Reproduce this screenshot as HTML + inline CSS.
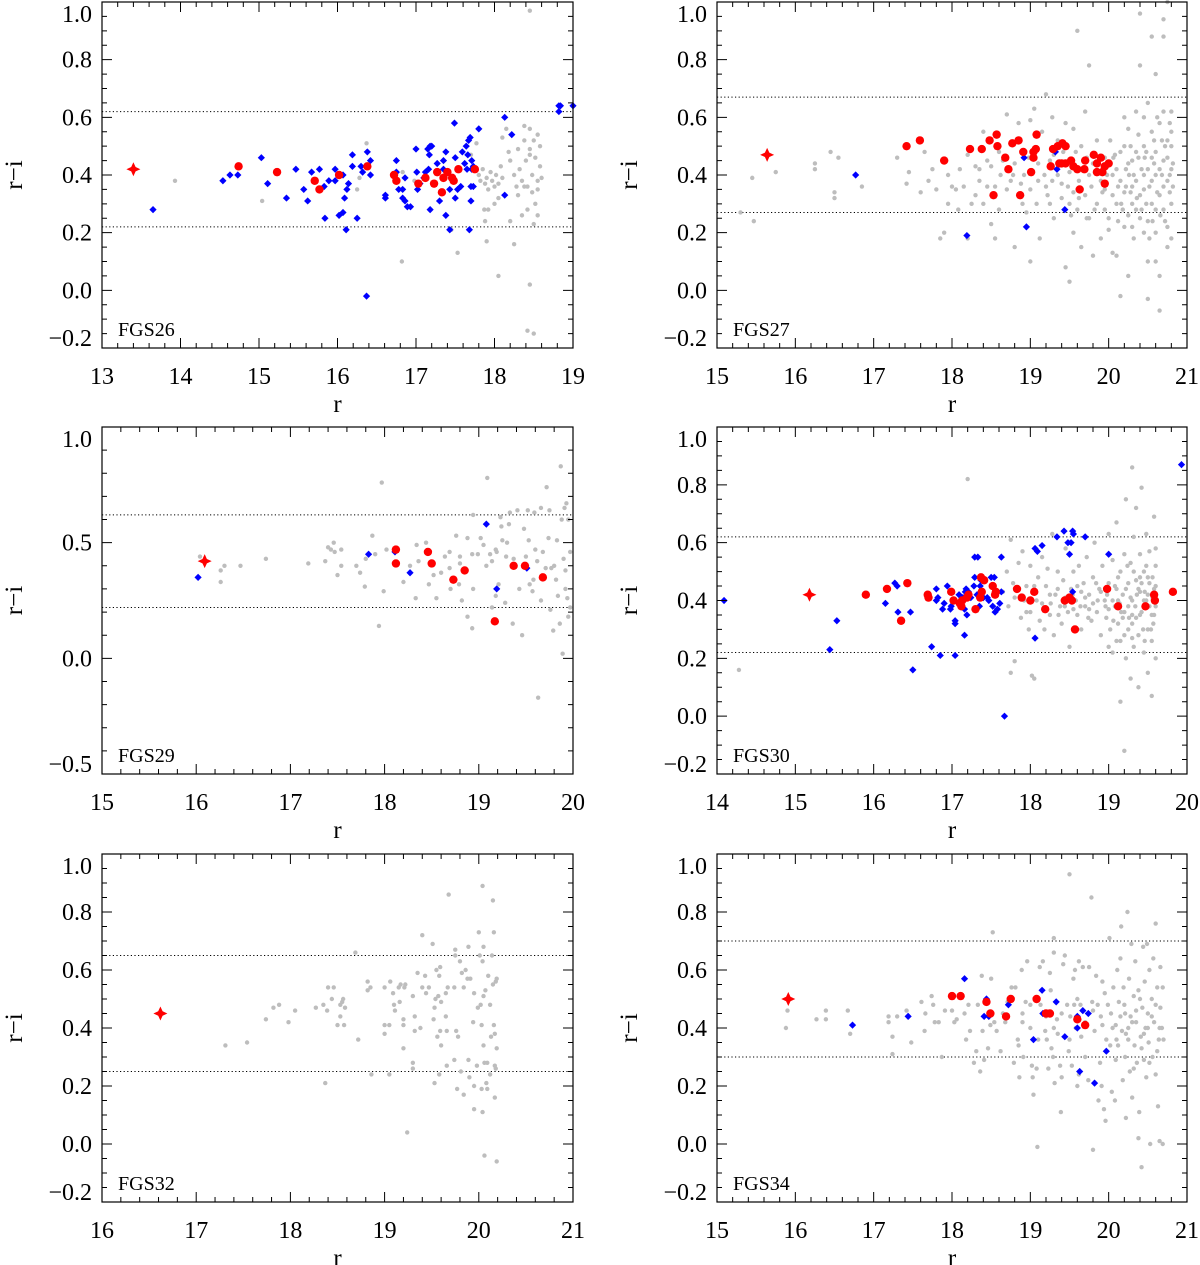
<!DOCTYPE html>
<html><head><meta charset="utf-8"><style>
html,body{margin:0;padding:0;background:#fff;}
svg{display:block;font-family:"Liberation Serif",serif;}
</style></head><body>
<svg id="fig" width="1200" height="1265" viewBox="0 0 1200 1265" xmlns="http://www.w3.org/2000/svg"></svg>
<script>
// ===== FGS26 =====
const fgs26Gray=[[13.93,0.38],[15.04,0.31],[16.37,0.51],[16.25,0.35],[16.28,0.39],[16.82,0.10],[16.98,0.38],[16.83,0.41],[17.53,0.13],[17.45,0.21],[17.70,0.47],[17.77,0.51],[17.8,0.40],[17.82,0.38],[17.85,0.42],[17.88,0.37],[17.9,0.39],[17.92,0.35],[17.95,0.41],[17.97,0.38],[18.0,0.36],[18.02,0.40],[18.05,0.37],[18.08,0.43],[18.1,0.39],[17.87,0.28],[17.92,0.28],[17.88,0.24],[17.9,0.17],[18.05,0.32],[18.0,0.30],[18.05,0.05],[18.1,0.53],[18.2,0.24],[18.25,0.16],[18.15,0.56],[18.2,0.45],[18.25,0.40],[18.28,0.36],[18.3,0.49],[18.32,0.42],[18.35,0.38],[18.38,0.36],[18.38,0.52],[18.4,0.45],[18.42,0.36],[18.42,0.28],[18.45,0.49],[18.45,0.56],[18.48,0.40],[18.48,0.34],[18.5,0.52],[18.5,0.23],[18.52,0.46],[18.52,0.30],[18.55,0.54],[18.55,0.38],[18.55,0.26],[18.58,0.50],[18.58,0.43],[18.6,0.39],[18.45,0.97],[18.45,0.02],[18.42,-0.14],[18.5,-0.15],[18.38,0.57],[18.3,0.33],[18.18,0.48],[18.35,0.26],[18.55,0.35],[18.45,0.47]];
const fgs26Blue=[[13.65,0.28],[14.54,0.38],[14.63,0.40],[14.73,0.40],[15.03,0.46],[15.11,0.37],[15.35,0.32],[15.47,0.42],[15.57,0.35],[15.62,0.31],[15.67,0.41],[15.77,0.42],[15.83,0.36],[15.84,0.25],[15.89,0.38],[15.97,0.42],[15.97,0.38],[16.02,0.26],[16.07,0.27],[16.07,0.40],[16.09,0.32],[16.11,0.21],[16.12,0.35],[16.14,0.37],[16.19,0.47],[16.19,0.43],[16.25,0.25],[16.30,0.43],[16.32,0.41],[16.38,0.48],[16.37,-0.02],[16.42,0.45],[16.42,0.40],[16.61,0.33],[16.61,0.32],[16.75,0.45],[16.75,0.41],[16.78,0.35],[16.83,0.35],[16.83,0.32],[16.86,0.39],[16.86,0.31],[16.89,0.29],[16.93,0.29],[17.0,0.49],[17.01,0.41],[17.02,0.35],[17.05,0.37],[17.10,0.39],[17.12,0.41],[17.15,0.49],[17.18,0.50],[17.20,0.50],[17.17,0.47],[17.16,0.42],[17.18,0.28],[17.27,0.44],[17.30,0.31],[17.35,0.45],[17.38,0.48],[17.35,0.42],[17.38,0.26],[17.43,0.21],[17.43,0.35],[17.45,0.39],[17.49,0.58],[17.50,0.46],[17.50,0.32],[17.53,0.35],[17.57,0.36],[17.59,0.48],[17.62,0.44],[17.64,0.50],[17.65,0.42],[17.66,0.47],[17.67,0.52],[17.69,0.53],[17.68,0.21],[17.70,0.31],[17.70,0.36],[17.73,0.36],[17.71,0.45],[17.71,0.42],[17.73,0.43],[17.80,0.56],[18.13,0.60],[18.13,0.33],[18.22,0.54],[18.82,0.64],[18.82,0.62],[18.84,0.64],[19.0,0.64]];
const fgs26Red=[[14.74,0.43],[15.23,0.41],[15.71,0.38],[15.77,0.35],[16.02,0.40],[16.38,0.43],[16.72,0.40],[16.75,0.38],[17.03,0.37],[17.12,0.39],[17.23,0.37],[17.27,0.41],[17.33,0.34],[17.35,0.39],[17.40,0.41],[17.46,0.39],[17.48,0.38],[17.54,0.42],[17.75,0.42]];
const fgs26Star=[[13.40,0.42]];
const fgs26Cuts=[0.62,0.22];
// ===== FGS27 =====
const fgs27Gray=[[15.45,0.39],[15.47,0.24],[15.3,0.27],[15.75,0.41],[16.25,0.42],[16.25,0.44],[16.5,0.34],[16.5,0.32],[16.45,0.48],[16.55,0.46],[16.85,0.36],[17.3,0.46],[17.42,0.37],[17.45,0.41],[17.6,0.34],[17.65,0.48],[17.7,0.38],[17.75,0.42],[17.8,0.35],[17.85,0.18],[17.9,0.20],[17.95,0.30],[17.95,0.40],[18.05,0.35],[18.08,0.28],[18.15,0.36],[18.2,0.18],[18.25,0.30],[18.3,0.43],[18.35,0.38],[18.4,0.55],[18.45,0.45],[18.5,0.23],[18.55,0.36],[18.55,0.18],[18.6,0.28],[18.65,0.45],[18.7,0.61],[18.75,0.38],[18.8,0.15],[18.85,0.58],[18.88,0.37],[18.92,0.40],[18.95,0.27],[19.0,0.10],[19.0,0.59],[19.05,0.63],[19.1,0.38],[19.12,0.18],[19.15,0.55],[19.2,0.68],[19.22,0.33],[19.25,0.45],[19.28,0.60],[19.3,0.25],[19.35,0.40],[19.4,0.37],[19.45,0.08],[19.5,0.03],[19.5,0.30],[19.55,0.20],[19.55,0.56],[19.6,0.90],[19.62,0.38],[19.65,0.15],[19.7,0.62],[19.72,0.25],[19.75,0.78],[19.8,0.12],[19.85,0.30],[19.9,0.18],[19.95,0.35],[20.0,0.25],[20.05,0.40],[20.1,0.30],[20.1,0.12],[20.15,0.38],[20.15,-0.02],[20.2,0.50],[20.2,0.22],[20.25,0.05],[20.25,0.56],[20.3,0.45],[20.3,0.30],[20.35,0.38],[20.35,0.62],[20.4,0.25],[20.4,0.78],[20.4,0.96],[20.45,0.50],[20.45,0.20],[20.45,0.35],[20.5,0.42],[20.5,0.65],[20.5,0.10],[20.5,-0.03],[20.55,0.30],[20.55,0.55],[20.55,0.88],[20.6,0.40],[20.6,0.20],[20.6,0.75],[20.6,0.48],[20.65,0.33],[20.65,0.58],[20.65,0.05],[20.65,-0.07],[20.7,0.45],[20.7,0.28],[20.7,0.88],[20.7,0.62],[20.75,0.38],[20.75,0.52],[20.75,0.15],[20.75,1.0],[20.8,0.42],[20.8,0.30],[20.8,0.62],[20.8,0.18],[20.25,0.44],[20.3,0.22],[20.35,0.48],[20.4,0.33],[20.45,0.60],[20.55,0.46],[20.6,0.28],[20.7,0.36],[20.75,0.22],[20.8,0.50],[20.7,0.94],[20.6,0.10],[20.5,0.24],[20.3,0.36],[20.2,0.34],[20.1,0.42],[19.95,0.46],[19.9,0.38],[19.8,0.44],[19.7,0.33],[19.6,0.28],[19.5,0.41],[19.4,0.32],[19.3,0.47],[19.2,0.36],[19.1,0.44],[19.0,0.35],[18.9,0.30],[18.8,0.44],[18.7,0.35],[18.6,0.48],[18.5,0.43],[18.4,0.30],[18.3,0.33],[18.2,0.47],[18.1,0.42],[18.0,0.36],[19.25,0.30],[19.35,0.52],[19.45,0.58],[19.55,0.34],[19.65,0.50],[19.75,0.40],[19.85,0.52],[19.95,0.28],[20.05,0.33],[20.15,0.48],[20.25,0.26],[20.35,0.28],[20.45,0.40],[20.55,0.38],[20.65,0.42],[20.75,0.46],[20.8,0.55],[20.2,0.60],[20.0,0.21],[20.05,0.13],[19.75,0.25],
[20.02,0.52],[20.08,0.47],[20.12,0.36],[20.18,0.28],[20.22,0.42],[20.28,0.50],[20.32,0.40],[20.38,0.46],[20.42,0.42],[20.48,0.30],[20.52,0.36],[20.58,0.52],[20.62,0.34],[20.68,0.40],[20.72,0.50],[20.78,0.34],[20.82,0.44],[20.28,0.34],[20.38,0.54],[20.48,0.48],[20.58,0.44],[20.68,0.52],[20.78,0.40],[20.42,0.28],[20.52,0.18],[20.62,0.60],[20.72,0.24],[20.32,0.18],[20.22,0.36],[20.12,0.24],[19.98,0.40],[19.88,0.46],[19.78,0.36],[19.68,0.42],[19.58,0.48],[19.48,0.36],[19.38,0.44],[19.28,0.38],[19.18,0.40],[19.08,0.30],[18.98,0.46],[18.78,0.40],[18.62,0.40],[18.45,0.36],[18.35,0.42],[20.82,0.36],[20.78,0.58],[20.66,0.26],[20.56,0.24],[20.46,0.46],[20.36,0.32],[20.26,0.40],[20.16,0.30],[20.06,0.46],[19.92,0.34],[19.82,0.28],[19.72,0.46],[19.62,0.32],[19.52,0.26],[19.42,0.48]];
const fgs27Blue=[[16.77,0.40],[18.19,0.19],[18.92,0.46],[18.95,0.22],[19.32,0.48],[19.34,0.42],[19.44,0.28]];
const fgs27Red=[[17.42,0.50],[17.59,0.52],[17.90,0.45],[18.23,0.49],[18.38,0.49],[18.48,0.52],[18.57,0.54],[18.58,0.50],[18.53,0.33],[18.68,0.46],[18.72,0.42],[18.77,0.51],[18.85,0.52],[18.87,0.33],[18.91,0.48],[19.01,0.41],[19.04,0.46],[19.04,0.48],[19.07,0.49],[19.08,0.54],[19.26,0.43],[19.29,0.49],[19.35,0.50],[19.37,0.44],[19.41,0.51],[19.45,0.50],[19.40,0.44],[19.45,0.44],[19.52,0.45],[19.55,0.43],[19.60,0.42],[19.63,0.35],[19.69,0.42],[19.70,0.45],[19.81,0.47],[19.85,0.44],[19.85,0.41],[19.90,0.46],[19.92,0.41],[19.95,0.43],[19.95,0.37],[20.0,0.44]];
const fgs27Star=[[15.64,0.47]];
const fgs27Cuts=[0.67,0.27];
// ===== FGS29 =====
const fgs29Gray=[[16.04,0.44],[16.26,0.38],[16.26,0.33],[16.30,0.40],[16.47,0.40],[16.74,0.43],[17.19,0.41],[17.37,0.42],[17.40,0.48],[17.43,0.47],[17.46,0.50],[17.47,0.46],[17.50,0.36],[17.54,0.40],[17.54,0.47],[17.70,0.40],[17.74,0.37],[17.79,0.31],[17.80,0.43],[17.87,0.53],[17.90,0.45],[17.94,0.14],[17.97,0.76],[17.99,0.29],[18.02,0.47],[18.20,0.33],[18.27,0.40],[18.33,0.26],[18.34,0.49],[18.36,0.42],[18.44,0.50],[18.47,0.32],[18.52,0.36],[18.55,0.26],[18.60,0.37],[18.64,0.44],[18.69,0.46],[18.69,0.39],[18.70,0.30],[18.76,0.53],[18.79,0.32],[18.80,0.44],[18.80,0.41],[18.82,0.25],[18.88,0.18],[18.88,0.52],[18.93,0.45],[18.93,0.13],[18.94,0.30],[18.94,0.62],[18.99,0.45],[19.02,0.52],[19.05,0.49],[19.08,0.40],[19.09,0.78],[19.12,0.45],[19.14,0.42],[19.14,0.22],[19.18,0.27],[19.18,0.47],[19.19,0.46],[19.21,0.32],[19.23,0.61],[19.24,0.57],[19.25,0.51],[19.28,0.24],[19.29,0.44],[19.30,0.50],[19.32,0.58],[19.33,0.63],[19.36,0.15],[19.37,0.43],[19.41,0.64],[19.43,0.30],[19.46,0.10],[19.48,0.56],[19.50,0.44],[19.52,0.64],[19.53,0.51],[19.54,0.32],[19.57,0.29],[19.58,0.34],[19.59,0.63],[19.60,0.47],[19.62,0.42],[19.63,-0.17],[19.66,0.25],[19.66,0.65],[19.68,0.46],[19.71,0.39],[19.72,0.74],[19.74,0.52],[19.75,0.64],[19.76,0.21],[19.77,0.39],[19.79,0.12],[19.80,0.40],[19.82,0.34],[19.83,0.51],[19.84,0.27],[19.86,0.15],[19.87,0.83],[19.88,0.60],[19.89,0.02],[19.90,0.43],[19.91,0.65],[19.92,0.38],[19.92,0.30],[19.93,0.67],[19.94,0.26],[19.95,0.60],[19.95,0.18],[19.97,0.46],[19.97,0.22]];
const fgs29Blue=[[16.02,0.35],[17.83,0.45],[18.11,0.46],[18.27,0.37],[19.08,0.58],[19.19,0.30],[19.51,0.39]];
const fgs29Red=[[18.12,0.47],[18.12,0.41],[18.46,0.46],[18.50,0.41],[18.73,0.34],[18.85,0.38],[19.17,0.16],[19.37,0.40],[19.49,0.40],[19.68,0.35]];
const fgs29Star=[[16.09,0.42]];
const fgs29Cuts=[0.62,0.22];
// ===== FGS30 =====
const fgs30Gray=[[14.28,0.16],[17.20,0.82],[17.75,0.15],[17.80,0.19],[17.65,0.43],[17.7,0.50],[17.72,0.38],[17.75,0.61],[17.78,0.46],[17.8,0.41],[17.85,0.53],[17.88,0.34],[17.9,0.57],[17.92,0.40],[17.95,0.45],[17.98,0.30],[18.0,0.52],[18.0,0.36],[18.02,0.14],[18.05,0.13],[18.08,0.40],[18.1,0.48],[18.12,0.33],[18.15,0.55],[18.18,0.30],[18.2,0.45],[18.22,0.51],[18.25,0.35],[18.28,0.63],[18.3,0.28],[18.32,0.42],[18.35,0.50],[18.38,0.38],[18.4,0.32],[18.42,0.47],[18.45,0.58],[18.48,0.36],[18.5,0.24],[18.52,0.44],[18.55,0.50],[18.58,0.40],[18.6,0.35],[18.62,0.52],[18.65,0.30],[18.68,0.46],[18.7,0.38],[18.72,0.55],[18.75,0.42],[18.78,0.33],[18.8,0.48],[18.82,0.60],[18.85,0.36],[18.88,0.44],[18.9,0.28],[18.92,0.52],[18.95,0.40],[18.97,0.34],[19.0,0.63],[19.0,0.46],[19.02,0.30],[19.05,0.54],[19.05,0.22],[19.08,0.38],[19.1,0.44],[19.1,0.67],[19.12,0.32],[19.15,0.50],[19.15,0.26],[19.15,0.05],[19.18,0.42],[19.2,0.56],[19.2,0.36],[19.22,0.20],[19.22,0.75],[19.25,0.46],[19.25,0.30],[19.28,0.53],[19.28,0.13],[19.3,0.40],[19.3,0.86],[19.32,0.24],[19.32,0.62],[19.35,0.34],[19.35,0.47],[19.35,0.72],[19.38,0.28],[19.38,0.10],[19.4,0.43],[19.4,0.56],[19.42,0.36],[19.42,0.79],[19.45,0.22],[19.45,0.50],[19.48,0.40],[19.48,0.63],[19.5,0.30],[19.5,0.15],[19.52,0.46],[19.52,0.57],[19.55,0.35],[19.55,0.26],[19.55,0.07],[19.58,0.44],[19.58,0.69],[19.6,0.38],[19.6,0.52],[19.6,0.20],[19.6,0.58],[19.45,0.40],[19.38,0.44],[19.25,0.38],[19.12,0.48],[18.98,0.42],[18.86,0.40],[18.75,0.37],[18.65,0.43],[18.55,0.37],[18.45,0.41],[18.35,0.44],[18.25,0.42],[18.15,0.39],[18.05,0.45],[17.95,0.36],[19.05,0.40],[19.18,0.34],[19.3,0.32],[19.42,0.46],[19.5,0.42],[19.57,0.32],[19.2,-0.12],[19.3,0.35],[19.1,0.26],[19.0,0.24],
[18.6,0.45],[18.7,0.41],[18.8,0.39],[18.9,0.43],[19.0,0.37],[19.08,0.45],[19.14,0.39],[19.22,0.44],[19.28,0.41],[19.34,0.38],[19.4,0.35],[19.46,0.43],[19.52,0.38],[19.56,0.41],[19.6,0.45],[19.58,0.35],[19.5,0.48],[19.44,0.30],[19.36,0.42],[19.26,0.34],[19.16,0.36],[19.06,0.33],[18.96,0.38],[18.84,0.46],[18.74,0.34],[18.64,0.38],[18.54,0.42],[18.44,0.38],[18.36,0.35],[18.26,0.39],[19.4,0.48],[19.48,0.52],[19.56,0.48],[19.32,0.50],[19.24,0.52],[19.2,0.28],[19.3,0.27],[19.46,0.26],[19.54,0.30],[19.12,0.40]];
const fgs30Blue=[[14.09,0.40],[15.53,0.33],[15.44,0.23],[16.15,0.39],[16.27,0.46],[16.30,0.45],[16.31,0.36],[16.47,0.36],[16.50,0.16],[16.74,0.24],[16.80,0.44],[16.80,0.40],[16.82,0.41],[16.85,0.21],[16.88,0.37],[16.90,0.39],[16.94,0.45],[16.98,0.37],[16.99,0.38],[17.04,0.33],[17.04,0.32],[17.04,0.21],[17.09,0.42],[17.14,0.41],[17.16,0.28],[17.16,0.37],[17.17,0.43],[17.18,0.44],[17.19,0.35],[17.21,0.43],[17.24,0.41],[17.28,0.45],[17.29,0.48],[17.29,0.55],[17.33,0.55],[17.32,0.42],[17.35,0.38],[17.36,0.45],[17.37,0.47],[17.40,0.41],[17.45,0.41],[17.47,0.40],[17.50,0.48],[17.54,0.48],[17.52,0.38],[17.55,0.36],[17.58,0.37],[17.61,0.39],[17.63,0.55],[17.63,0.43],[17.67,0.0],[18.06,0.58],[18.09,0.57],[18.15,0.59],[18.06,0.27],[18.34,0.62],[18.43,0.64],[18.48,0.60],[18.52,0.60],[18.50,0.56],[18.54,0.64],[18.55,0.63],[18.54,0.43],[18.70,0.62],[19.0,0.56],[19.93,0.87]];
const fgs30Red=[[15.90,0.42],[16.17,0.44],[16.35,0.33],[16.43,0.46],[16.69,0.42],[16.70,0.41],[16.99,0.43],[17.02,0.40],[17.10,0.39],[17.12,0.38],[17.13,0.40],[17.19,0.41],[17.21,0.42],[17.30,0.37],[17.37,0.48],[17.41,0.47],[17.38,0.43],[17.36,0.41],[17.52,0.45],[17.55,0.42],[17.56,0.43],[17.83,0.44],[17.89,0.41],[18.0,0.40],[18.05,0.43],[18.19,0.37],[18.44,0.40],[18.50,0.41],[18.53,0.40],[18.57,0.30],[18.98,0.44],[19.12,0.38],[19.47,0.38],[19.58,0.42],[19.59,0.40],[19.82,0.43]];
const fgs30Star=[[15.18,0.42]];
const fgs30Cuts=[0.62,0.22];
// ===== FGS32 =====
const fgs32Gray=[[17.31,0.34],[17.54,0.35],[17.74,0.43],[17.82,0.47],[17.88,0.48],[17.98,0.42],[18.05,0.46],[18.27,0.47],[18.35,0.48],[18.37,0.21],[18.39,0.46],[18.40,0.54],[18.46,0.54],[18.44,0.50],[18.50,0.41],[18.53,0.44],[18.53,0.48],[18.55,0.49],[18.56,0.50],[18.57,0.41],[18.58,0.47],[18.69,0.66],[18.72,0.36],[18.82,0.56],[18.82,0.53],[18.85,0.54],[18.86,0.24],[19.0,0.38],[19.0,0.54],[19.0,0.41],[19.05,0.41],[19.05,0.24],[19.06,0.56],[19.09,0.52],[19.10,0.48],[19.11,0.46],[19.15,0.54],[19.16,0.49],[19.17,0.55],[19.20,0.43],[19.20,0.41],[19.20,0.33],[19.21,0.54],[19.22,0.55],[19.24,0.04],[19.30,0.28],[19.30,0.26],[19.30,0.51],[19.32,0.39],[19.32,0.44],[19.35,0.59],[19.38,0.40],[19.40,0.54],[19.40,0.72],[19.43,0.58],[19.44,0.52],[19.47,0.54],[19.51,0.69],[19.52,0.43],[19.53,0.47],[19.53,0.21],[19.54,0.50],[19.55,0.60],[19.56,0.37],[19.57,0.51],[19.58,0.58],[19.59,0.39],[19.59,0.61],[19.60,0.49],[19.60,0.34],[19.58,0.24],[19.65,0.44],[19.65,0.52],[19.66,0.39],[19.66,0.27],[19.67,0.54],[19.68,0.86],[19.74,0.54],[19.74,0.29],[19.75,0.67],[19.75,0.65],[19.76,0.39],[19.77,0.19],[19.78,0.37],[19.80,0.63],[19.81,0.25],[19.82,0.59],[19.84,0.54],[19.84,0.17],[19.86,0.60],[19.88,0.57],[19.89,0.29],[19.89,0.68],[19.90,0.23],[19.91,0.57],[19.94,0.42],[19.95,0.20],[19.95,0.12],[19.95,0.52],[19.98,0.27],[19.99,0.47],[20.0,0.73],[20.01,0.65],[20.02,0.48],[20.03,0.41],[20.03,0.19],[20.04,0.89],[20.04,0.11],[20.04,0.63],[20.05,0.68],[20.05,0.51],[20.05,0.34],[20.06,0.28],[20.06,-0.04],[20.07,0.53],[20.08,0.21],[20.09,0.19],[20.09,0.28],[20.10,0.58],[20.12,0.48],[20.12,0.24],[20.13,0.37],[20.14,0.65],[20.15,0.84],[20.15,0.55],[20.16,0.41],[20.16,0.73],[20.17,0.27],[20.17,0.38],[20.17,0.16],[20.18,0.56],[20.19,0.33],[20.19,-0.06],[20.18,0.26],[20.19,0.57]];
const fgs32Blue=[];
const fgs32Red=[];
const fgs32Star=[[16.62,0.45]];
const fgs32Cuts=[0.65,0.25];
// ===== FGS34 =====
const fgs34Gray=[[15.90,0.46],[15.88,0.40],[16.27,0.43],[16.39,0.46],[16.39,0.43],[16.67,0.46],[16.70,0.38],[17.19,0.44],[17.19,0.42],[17.24,0.37],[17.24,0.31],[17.30,0.44],[17.42,0.46],[17.48,0.35],[17.61,0.49],[17.65,0.39],[17.66,0.45],[17.74,0.51],[17.76,0.48],[17.78,0.42],[17.83,0.42],[17.87,0.30],[17.91,0.46],[18.0,0.46],[18.03,0.42],[18.06,0.43],[18.16,0.45],[18.18,0.36],[18.21,0.48],[18.23,0.39],[18.28,0.28],[18.31,0.32],[18.33,0.48],[18.36,0.25],[18.38,0.58],[18.39,0.39],[18.41,0.29],[18.46,0.33],[18.49,0.41],[18.50,0.57],[18.52,0.73],[18.54,0.42],[18.57,0.39],[18.62,0.32],[18.65,0.45],[18.68,0.42],[18.71,0.49],[18.76,0.54],[18.79,0.28],[18.81,0.54],[18.84,0.36],[18.85,0.34],[18.86,0.23],[18.89,0.60],[18.90,0.45],[18.91,0.30],[18.94,0.49],[18.96,0.63],[19.0,0.48],[19.02,0.27],[19.03,0.23],[19.04,0.17],[19.08,0.26],[19.09,-0.01],[19.12,0.61],[19.13,0.48],[19.16,0.63],[19.19,0.39],[19.21,0.36],[19.23,0.26],[19.25,0.59],[19.26,0.53],[19.27,0.33],[19.29,0.30],[19.30,0.71],[19.30,0.66],[19.31,0.21],[19.34,0.43],[19.35,0.38],[19.38,0.27],[19.39,0.11],[19.40,0.23],[19.42,0.62],[19.44,0.65],[19.47,0.48],[19.49,0.32],[19.50,0.93],[19.51,0.44],[19.53,0.27],[19.55,0.57],[19.56,0.48],[19.57,0.60],[19.58,0.40],[19.60,0.20],[19.62,0.24],[19.62,0.63],[19.64,0.48],[19.65,0.37],[19.67,0.61],[19.70,0.30],[19.74,0.22],[19.75,0.61],[19.78,0.85],[19.79,0.49],[19.80,-0.02],[19.82,0.39],[19.84,0.58],[19.86,0.48],[19.87,0.15],[19.89,0.28],[19.91,0.20],[19.92,0.41],[19.92,0.56],[19.94,0.12],[19.95,0.52],[19.96,0.08],[19.97,0.36],[19.99,0.48],[20.01,0.71],[20.02,0.34],[20.03,0.45],[20.04,0.18],[20.06,0.54],[20.08,0.15],[20.09,0.29],[20.09,0.41],[20.11,0.60],[20.12,0.34],[20.13,0.49],[20.15,0.64],[20.16,0.75],[20.17,0.39],[20.18,0.22],[20.19,0.54],[20.21,0.30],[20.21,0.45],[20.22,0.09],[20.24,0.80],[20.25,0.36],[20.26,0.57],[20.27,0.25],[20.28,0.44],[20.29,0.69],[20.30,0.16],[20.32,0.51],[20.33,0.34],[20.34,0.63],[20.35,0.42],[20.36,0.28],[20.38,0.02],[20.38,0.53],[20.39,0.11],[20.41,0.37],[20.42,-0.08],[20.43,0.47],[20.44,0.68],[20.45,0.29],[20.46,0.56],[20.47,0.40],[20.48,0.23],[20.49,0.69],[20.50,0.45],[20.51,0.35],[20.52,0.60],[20.53,0.0],[20.55,0.50],[20.56,0.30],[20.57,0.64],[20.58,0.42],[20.60,0.76],[20.60,0.24],[20.62,0.54],[20.63,0.13],[20.64,0.36],[20.65,0.01],[20.66,0.47],[20.66,0.61],[20.68,0.40],[20.69,0.0],[20.69,0.54],
[20.05,0.40],[20.15,0.44],[20.25,0.40],[20.35,0.46],[20.45,0.38],[20.55,0.44],[20.65,0.40],[20.1,0.36],[20.2,0.48],[20.3,0.42],[20.4,0.50],[20.5,0.40],[20.6,0.48],[20.7,0.36],[19.9,0.44],[19.8,0.46],[19.7,0.42],[19.6,0.50],[19.5,0.36],[19.4,0.45],[19.3,0.40],[19.2,0.44],[19.1,0.36],[19.0,0.40],[18.9,0.42],[20.42,0.33],[20.52,0.28],[20.62,0.32],[20.32,0.26],[20.22,0.38]];
const fgs34Blue=[[16.73,0.41],[17.44,0.44],[18.16,0.57],[18.41,0.44],[18.44,0.50],[18.47,0.44],[18.72,0.48],[18.74,0.50],[19.04,0.36],[19.15,0.53],[19.16,0.45],[19.33,0.49],[19.44,0.37],[19.60,0.44],[19.60,0.40],[19.63,0.25],[19.67,0.46],[19.74,0.45],[19.82,0.21],[19.97,0.32]];
const fgs34Red=[[18.0,0.51],[18.11,0.51],[18.44,0.49],[18.49,0.45],[18.69,0.44],[18.75,0.50],[19.08,0.50],[19.20,0.45],[19.25,0.45],[19.60,0.43],[19.70,0.41]];
const fgs34Star=[[15.91,0.50]];
const fgs34Cuts=[0.70,0.30];

const NS="http://www.w3.org/2000/svg";
const svg=document.getElementById('fig');
function mk(tag,attrs,parent){const e=document.createElementNS(NS,tag);for(const k in attrs)e.setAttribute(k,attrs[k]);(parent||svg).appendChild(e);return e;}

function panel(cfg){
  const g=mk('g',{});
  
  
  const X=v=>cfg.x0+(v-cfg.xmin)/(cfg.xmax-cfg.xmin)*(cfg.x1-cfg.x0);
  const Y=v=>cfg.y1-(v-cfg.ymin)/(cfg.ymax-cfg.ymin)*(cfg.y1-cfg.y0);
  cfg.cuts.forEach(c=>{
    const l=mk('line',{x1:cfg.x0,x2:cfg.x1,y1:Y(c),y2:Y(c),stroke:'#000','stroke-width':1,'stroke-dasharray':'1.2,2.4'},g);
    
    
  });
  cfg.gray.forEach(p=>{
    const c=mk('circle',{cx:X(p[0]),cy:Y(p[1]),r:2.2,fill:'#bdbdbd'},g);
    
    
  });
  cfg.blue.forEach(p=>{
    const x=X(p[0]),y=Y(p[1]),s=3.6;
    const d=mk('polygon',{points:`${x},${y-s} ${x+s},${y} ${x},${y+s} ${x-s},${y}`,fill:'#0000ff'},g);
    
    
  });
  cfg.red.forEach(p=>{
    const c=mk('circle',{cx:X(p[0]),cy:Y(p[1]),r:4.2,fill:'#ff0000'},g);
    
    
  });
  cfg.star.forEach(p=>{
    const x=X(p[0]),y=Y(p[1]),a=7,b=2.2;
    const s=mk('polygon',{points:`${x},${y-a} ${x+b},${y-b} ${x+a},${y} ${x+b},${y+b} ${x},${y+a} ${x-b},${y+b} ${x-a},${y} ${x-b},${y-b}`,fill:'#ff0000'},g);
    
    
  });
  const fr=mk('rect',{x:cfg.x0,y:cfg.y0,width:cfg.x1-cfg.x0,height:cfg.y1-cfg.y0,fill:'none',stroke:'#000','stroke-width':1.2},g);
  
  
  let path='';
  const xm=Math.round((cfg.xmax-cfg.xmin)/0.2);
  for(let i=0;i<=xm;i++){const v=cfg.xmin+i*0.2;const x=X(v);const maj=(i%5===0);const L=maj?10:5;
    path+=`M${x},${cfg.y1}v${-L}M${x},${cfg.y0}v${L}`;}
  const ym=Math.round((cfg.ymax-cfg.ymin)/cfg.yminor);
  const per=Math.round(cfg.ymajor/cfg.yminor);
  const off=Math.round((Math.ceil(cfg.ymin/cfg.ymajor-1e-9)*cfg.ymajor-cfg.ymin)/cfg.yminor);
  for(let i=0;i<=ym;i++){const v=cfg.ymin+i*cfg.yminor;const y=Y(v);const maj=((i-off)%per===0);const L=maj?10:5;
    path+=`M${cfg.x0},${y}h${L}M${cfg.x1},${y}h${-L}`;}
  const tk=mk('path',{d:path,stroke:'#000','stroke-width':1,fill:'none'},g);
  
  
  for(let v=cfg.xmin;v<=cfg.xmax+1e-9;v+=1){
    const t=mk('text',{x:X(v),y:cfg.y1+36,'font-size':24,'text-anchor':'middle',fill:'#000'},g);
    t.textContent=String(Math.round(v));
    
    
  }
  cfg.yticks.forEach((v,i)=>{
    let y=Y(v)+8;
    if(i===0) y=Math.min(y,cfg.y1-2);
    if(i===cfg.yticks.length-1) y=Math.max(y,cfg.y0+20);
    const t=mk('text',{x:cfg.x0-10,y:y,'font-size':24,'text-anchor':'end',fill:'#000'},g);
    t.textContent=cfg.ylabels[i];
    
    
  });
  const xt=mk('text',{x:(cfg.x0+cfg.x1)/2,y:cfg.y1+64,'font-size':25,'text-anchor':'middle',fill:'#000'},g);
  xt.textContent='r';
  
  
  const yc=(cfg.y0+cfg.y1)/2, yx=cfg.x0-80;
  const yt=mk('text',{x:yx,y:yc,'font-size':25,'text-anchor':'middle',fill:'#000',transform:`rotate(-90 ${yx} ${yc})`},g);
  yt.textContent='r\u2212i';
  
  
  const nm=mk('text',{x:cfg.x0+16,y:cfg.y1-12,'font-size':20,fill:'#000'},g);
  nm.textContent=cfg.name;
  
  
}
const ytA=[-0.2,0,0.2,0.4,0.6,0.8,1.0], ylA=['\u22120.2','0.0','0.2','0.4','0.6','0.8','1.0'];
const ytB=[-0.5,0,0.5,1.0], ylB=['\u22120.5','0.0','0.5','1.0'];
const L={x0:102,x1:573}, R={x0:717,x1:1187};
const rows=[{y0:2,y1:348},{y0:427,y1:774},{y0:854,y1:1202}];
const base={ymin:-0.2,ymax:1.0,ymajor:0.2,yminor:0.05,yticks:ytA,ylabels:ylA};
panel(Object.assign({},base,L,rows[0],{name:'FGS26',xmin:13,xmax:19,gray:fgs26Gray,blue:fgs26Blue,red:fgs26Red,star:fgs26Star,cuts:fgs26Cuts}));
panel(Object.assign({},base,R,rows[0],{name:'FGS27',xmin:15,xmax:21,gray:fgs27Gray,blue:fgs27Blue,red:fgs27Red,star:fgs27Star,cuts:fgs27Cuts}));
panel(Object.assign({},L,rows[1],{name:'FGS29',xmin:15,xmax:20,ymin:-0.5,ymax:1.0,ymajor:0.5,yminor:0.1,yticks:ytB,ylabels:ylB,gray:fgs29Gray,blue:fgs29Blue,red:fgs29Red,star:fgs29Star,cuts:fgs29Cuts}));
panel(Object.assign({},base,R,rows[1],{name:'FGS30',xmin:14,xmax:20,gray:fgs30Gray,blue:fgs30Blue,red:fgs30Red,star:fgs30Star,cuts:fgs30Cuts}));
panel(Object.assign({},base,L,rows[2],{name:'FGS32',xmin:16,xmax:21,gray:fgs32Gray,blue:fgs32Blue,red:fgs32Red,star:fgs32Star,cuts:fgs32Cuts}));
panel(Object.assign({},base,R,rows[2],{name:'FGS34',xmin:15,xmax:21,gray:fgs34Gray,blue:fgs34Blue,red:fgs34Red,star:fgs34Star,cuts:fgs34Cuts}));
</script>
</body></html>
